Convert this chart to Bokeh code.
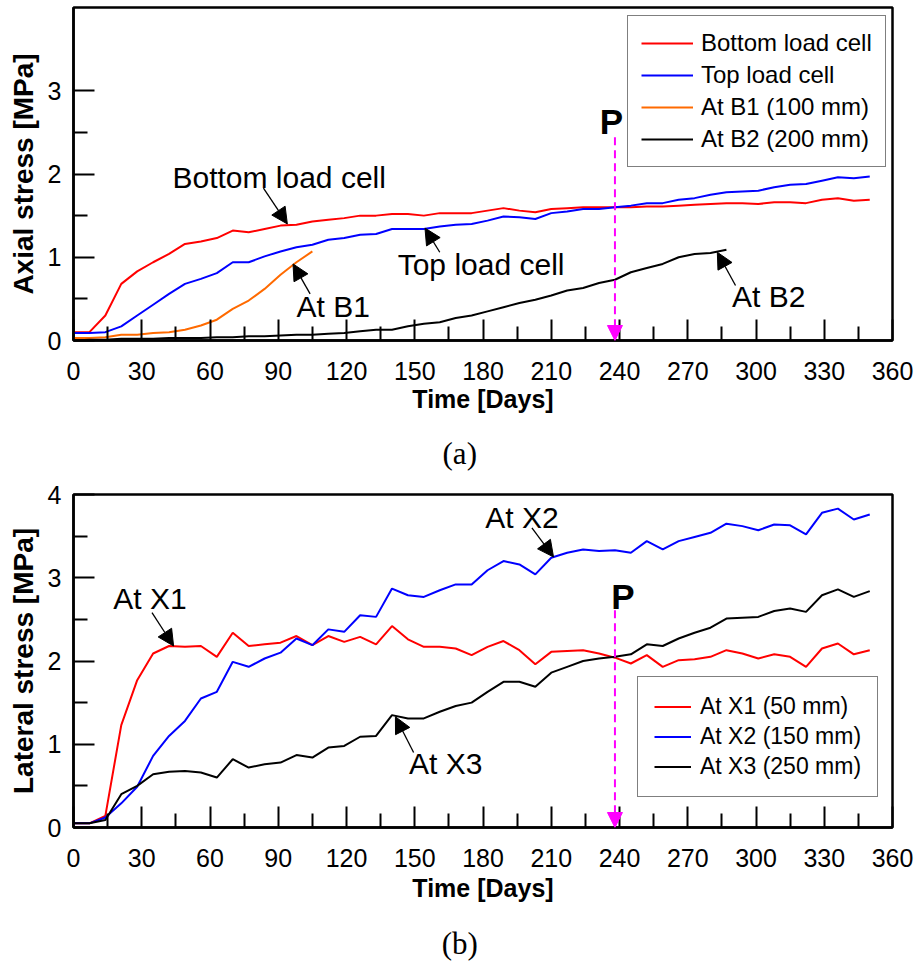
from bokeh.plotting import figure
from bokeh.layouts import column
from bokeh.models import Range1d, FixedTicker, Arrow, NormalHead, Label, LinearAxis
from bokeh.embed import file_html
from bokeh.resources import INLINE

# ---------------- data ----------------
days = list(range(0, 351, 7))            # weekly readings, day 0 .. 350

# (a) axial stress [MPa]
bottom_load_cell = [0.10, 0.10, 0.30, 0.68, 0.83, 0.94, 1.04, 1.16, 1.19, 1.23,
                    1.32, 1.30, 1.34, 1.38, 1.39, 1.43, 1.45, 1.47, 1.50, 1.50,
                    1.52, 1.52, 1.50, 1.53, 1.53, 1.53, 1.56, 1.59, 1.56, 1.54,
                    1.58, 1.59, 1.60, 1.60, 1.60, 1.60, 1.61, 1.61, 1.62, 1.63,
                    1.64, 1.65, 1.65, 1.64, 1.66, 1.66, 1.65, 1.69, 1.71, 1.68,
                    1.69]
top_load_cell = [0.09, 0.09, 0.10, 0.17, 0.30, 0.43, 0.56, 0.68, 0.74, 0.81,
                 0.94, 0.94, 1.01, 1.07, 1.12, 1.15, 1.21, 1.23, 1.27, 1.28,
                 1.34, 1.34, 1.34, 1.37, 1.39, 1.40, 1.44, 1.49, 1.48, 1.46,
                 1.53, 1.55, 1.58, 1.58, 1.60, 1.62, 1.65, 1.65, 1.69, 1.71,
                 1.75, 1.78, 1.79, 1.80, 1.84, 1.87, 1.88, 1.92, 1.96, 1.95,
                 1.97]
at_b1 = [0.03, 0.03, 0.04, 0.07, 0.07, 0.09, 0.10, 0.13, 0.18, 0.25,
         0.38, 0.48, 0.62, 0.79, 0.94, 1.07]                     # to day 105
at_b2 = [0.00, 0.01, 0.01, 0.02, 0.02, 0.02, 0.03, 0.03, 0.03, 0.04,
         0.04, 0.05, 0.05, 0.06, 0.07, 0.07, 0.08, 0.09, 0.11, 0.13,
         0.13, 0.17, 0.20, 0.22, 0.27, 0.30, 0.35, 0.40, 0.45, 0.49,
         0.54, 0.60, 0.63, 0.69, 0.73, 0.82, 0.87, 0.92, 1.00, 1.04,
         1.05, 1.09]                                             # to day 287

# (b) lateral stress [MPa]
at_x1 = [0.05, 0.05, 0.14, 1.23, 1.77, 2.09, 2.18, 2.17, 2.18, 2.05,
         2.34, 2.18, 2.20, 2.22, 2.30, 2.19, 2.30, 2.23, 2.29, 2.20,
         2.42, 2.26, 2.17, 2.17, 2.15, 2.07, 2.17, 2.24, 2.13, 1.96,
         2.11, 2.12, 2.13, 2.09, 2.04, 1.97, 2.07, 1.93, 2.01, 2.02,
         2.05, 2.13, 2.09, 2.03, 2.08, 2.05, 1.93, 2.15, 2.21, 2.08,
         2.13]
at_x2 = [0.05, 0.05, 0.12, 0.29, 0.49, 0.86, 1.10, 1.28, 1.55, 1.63,
         1.99, 1.93, 2.03, 2.10, 2.27, 2.19, 2.38, 2.35, 2.55, 2.53,
         2.87, 2.79, 2.77, 2.85, 2.92, 2.92, 3.09, 3.20, 3.16, 3.04,
         3.24, 3.30, 3.34, 3.32, 3.33, 3.30, 3.44, 3.34, 3.44, 3.49,
         3.54, 3.65, 3.62, 3.57, 3.64, 3.63, 3.52, 3.78, 3.83, 3.70,
         3.76]
at_x3 = [0.05, 0.05, 0.09, 0.40, 0.50, 0.64, 0.67, 0.68, 0.66, 0.60,
         0.82, 0.72, 0.76, 0.78, 0.87, 0.84, 0.96, 0.98, 1.09, 1.10,
         1.35, 1.31, 1.31, 1.39, 1.46, 1.50, 1.63, 1.75, 1.75, 1.69,
         1.86, 1.93, 2.00, 2.03, 2.05, 2.08, 2.20, 2.18, 2.27, 2.34,
         2.40, 2.51, 2.52, 2.53, 2.60, 2.63, 2.59, 2.79, 2.86, 2.77,
         2.84]

p_day = 238                               # day marked "P"

x_major = list(range(0, 361, 30))
x_minor = list(range(15, 360, 30))

SANS = "Liberation Sans"
SERIF = "Liberation Serif"
MAGENTA = "#FF00FF"
NBSP = "\u00a0"


def make_panel(height, border_top, border_bottom, ylabel, y_major, y_minor,
               caption, caption_gap, xlabel_gap):
    p = figure(width=917, height=height, x_range=Range1d(0, 360), y_range=Range1d(0, 4),
               output_backend="svg", toolbar_location=None,
               min_border_left=73, min_border_right=25,
               min_border_top=border_top, min_border_bottom=border_bottom)
    p.xgrid.visible = False
    p.ygrid.visible = False
    p.outline_line_color = "black"
    p.outline_line_width = 2.5
    p.xaxis.ticker = FixedTicker(ticks=x_major, minor_ticks=x_minor)
    p.yaxis.ticker = FixedTicker(ticks=y_major, minor_ticks=y_minor)
    p.xaxis.axis_label = "Time [Days]"
    p.yaxis.axis_label = ylabel
    for ax in (p.xaxis[0], p.yaxis[0]):
        ax.axis_line_width = 2.5
        ax.major_tick_in = 21
        ax.major_tick_out = 0
        ax.minor_tick_in = 14
        ax.minor_tick_out = 0
        ax.major_tick_line_width = 2
        ax.minor_tick_line_width = 2
        ax.major_label_text_font = SANS
        ax.major_label_text_font_size = "25px"
        ax.major_label_text_color = "black"
        ax.axis_label_text_font = SANS
        ax.axis_label_text_font_style = "bold"
        ax.axis_label_text_color = "black"
    p.xaxis.major_label_standoff = 21
    p.xaxis.axis_label_standoff = xlabel_gap
    p.xaxis.axis_label_text_font_size = "25px"
    p.yaxis.major_label_standoff = 12
    p.yaxis.axis_label_standoff = 6
    p.yaxis.axis_label_text_font_size = "28px"

    # caption: a bare axis (no line, ticks or labels) under the time axis;
    # the trailing spaces pull the centred caption onto the page centre
    cap = LinearAxis(ticker=FixedTicker(ticks=[]), axis_label=caption + NBSP * 6,
                     axis_line_color=None, major_tick_line_color=None,
                     minor_tick_line_color=None, major_label_text_font_size="0px",
                     axis_label_text_font=SERIF, axis_label_text_font_size="31px",
                     axis_label_text_font_style="normal", axis_label_text_color="black",
                     axis_label_standoff=caption_gap)
    p.add_layout(cap, "below")
    return p


def note(p, text, x, y):
    p.add_layout(Label(x=x, y=y, text=text, text_font=SANS, text_font_size="30px",
                       text_baseline="middle", text_align="left", text_color="black"))


def pointer(p, x0, y0, x1, y1):
    p.add_layout(Arrow(end=NormalHead(size=16, fill_color="black", line_color="black",
                                      line_width=1),
                       x_start=x0, y_start=y0, x_end=x1, y_end=y1,
                       line_color="black", line_width=1.3))


def mark_p(p, y_top, y_text, dx):
    p.add_layout(Arrow(end=NormalHead(size=15, fill_color=MAGENTA, line_color=MAGENTA,
                                      line_width=1),
                       x_start=p_day, y_start=y_top, x_end=p_day, y_end=0,
                       line_color=MAGENTA, line_width=2, line_dash="8 5"))
    p.add_layout(Label(x=p_day + dx, y=y_text, text="P", text_font=SANS,
                       text_font_size="35px", text_font_style="bold",
                       text_baseline="middle", text_align="center", text_color="black"))


def style_legend(p, loc, font_size, glyph_w, row_h, spacing, padding, standoff):
    leg = p.legend[0]
    leg.location = loc
    leg.border_line_color = "black"
    leg.border_line_width = 1.5
    leg.background_fill_color = "white"
    leg.background_fill_alpha = 1
    leg.label_text_font = SANS
    leg.label_text_font_size = font_size
    leg.label_text_color = "black"
    leg.glyph_width = glyph_w
    leg.glyph_height = row_h
    leg.label_height = row_h
    leg.spacing = spacing
    leg.padding = padding
    leg.label_standoff = standoff
    leg.margin = 0


# ---------------- (a) axial stress ----------------
pa = make_panel(481, 7, 141, "Axial stress [MPa]", [0, 1, 2, 3], [0.5, 1.5, 2.5],
                "(a)", 20, 2)
pa.line(days, bottom_load_cell, color="#FF0000", line_width=2, legend_label="Bottom load cell")
pa.line(days, top_load_cell, color="#0000FF", line_width=2, legend_label="Top load cell")
pa.line(days[:len(at_b1)], at_b1, color="#FF6A00", line_width=2, legend_label="At B1 (100 mm)")
pa.line(days[:len(at_b2)], at_b2, color="black", line_width=2, legend_label="At B2 (200 mm)")
style_legend(pa, (554, 173), "24px", 52, 28, 4, 13, 8)

note(pa, "Bottom load cell", 43.5, 1.96)
pointer(pa, 83.5, 1.83, 94, 1.40)
note(pa, "Top load cell", 142.5, 0.91)
pointer(pa, 161, 1.06, 154.5, 1.35)
note(pa, "At B1", 98, 0.41)
pointer(pa, 104, 0.56, 96.5, 0.92)
note(pa, "At B2", 289.5, 0.53)
pointer(pa, 291, 0.66, 283, 1.06)
mark_p(pa, 2.44, 2.63, -1.5)

# ---------------- (b) lateral stress ----------------
pb = make_panel(482, 13, 136, "Lateral stress [MPa]", [0, 1, 2, 3, 4],
                [0.5, 1.5, 2.5, 3.5], "(b)", 21, 4)
pb.line(days, at_x1, color="#FF0000", line_width=2, legend_label="At X1 (50 mm)")
pb.line(days, at_x2, color="#0000FF", line_width=2, legend_label="At X2 (150 mm)")
pb.line(days, at_x3, color="black", line_width=2, legend_label="At X3 (250 mm)")
style_legend(pb, (564, 30), "23px", 37, 27, 3, 16, 9)

note(pb, "At X1", 17.5, 2.75)
pointer(pb, 34.5, 2.58, 44, 2.18)
note(pb, "At X2", 181, 3.72)
pointer(pb, 201.5, 3.60, 211, 3.25)
note(pb, "At X3", 147.5, 0.77)
pointer(pb, 149.5, 0.90, 141.5, 1.33)
mark_p(pb, 2.61, 2.77, 3.5)

layout = column(pa, pb, spacing=0)
open("out.html", "w").write(file_html(layout, INLINE))
